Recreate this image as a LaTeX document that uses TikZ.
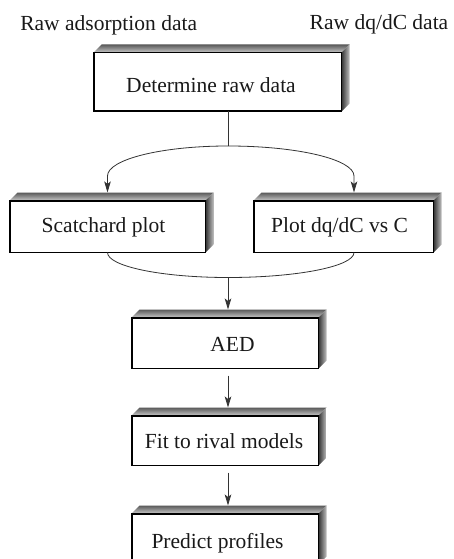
\documentclass[tikz,border=0pt]{standalone}
\usepackage{fontspec}
\setmainfont{Liberation Serif}
\usetikzlibrary{arrows.meta,calc}
\tikzset{
  box/.style={draw=black, line width=1pt, fill=white, rectangle, inner sep=0pt},
  txt/.style={anchor=base, inner sep=0pt, font=\fontsize{21.5}{24}\selectfont, text=black!90},
  conn/.style={draw=black!80, line width=0.8pt},
  arr/.style={conn, -{Stealth[length=11pt,width=6.5pt,inset=2.5pt]}},
}
\newcommand{\bevelfaces}[1]{%
  \shade[top color=black!65, bottom color=black!22]
    (#1.north west) -- ++(8,8) -- ($(#1.north east)+(8,8)$) -- (#1.north east) -- cycle;
  \shade[left color=black!80, right color=black!25]
    (#1.north east) -- ++(8,8) -- ($(#1.south east)+(8,8)$) -- (#1.south east) -- cycle;
  \draw[black, line width=1pt] (#1.north west) rectangle (#1.south east);
}
\begin{document}
\begin{tikzpicture}[x=1pt,y=1pt]
\useasboundingbox (0,0) rectangle (454,-559);
\clip (0,0) rectangle (454,-559);
\fill[white] (0,0) rectangle (454,-559);

% top labels
\node[txt] (lraw) at (108.7,-30.5) {Raw adsorption data};
\node[txt] (lrawdq) at (379,-29.5) {Raw dq/dC data};

% boxes (front faces)
\node[box, minimum width=247, minimum height=58] (top) at (217.5,-82) {};
\node[box, minimum width=195, minimum height=51] (scat) at (107.5,-226.5) {};
\node[box, minimum width=179, minimum height=51] (plot) at (343.5,-226.5) {};
\node[box, minimum width=186, minimum height=50] (aed) at (225,-343) {};
\node[box, minimum width=186, minimum height=49] (fit) at (225,-440.5) {};
\node[box, minimum width=186, minimum height=50] (pred) at (225,-539) {};

\foreach \b in {top,scat,plot,aed,fit,pred} {\bevelfaces{\b}}

% texts
\node[txt] (ttop) at (211,-93) {Determine raw data};
\node[txt] (tscat) at (103.5,-232) {Scatchard plot};
\node[txt] (tplot) at (339.5,-232) {Plot dq/dC vs C};
\node[txt] (taed) at (232.5,-351) {AED};
\node[txt] (tfit) at (224,-448) {Fit to rival models};
\node[txt] (tpred) at (217.5,-548) {Predict profiles};

% connectors
\coordinate (split) at (228,-146);
\draw[conn] (top.south -| split) -- (split);
\draw[arr] (split) arc[start angle=90, end angle=180, x radius=120.5pt, y radius=30pt]
  -- ([yshift=8pt]scat.north);
\coordinate (plotin) at ($(plot.north)+(10.5,8)$);
\draw[arr] (split) arc[start angle=90, end angle=0, x radius=126pt, y radius=30pt]
  -- (plotin);

\draw[conn] (scat.south) arc[start angle=180, end angle=270, x radius=120.5pt, y radius=25pt]
  coordinate (merge)
  arc[start angle=270, end angle=360, x radius=126pt, y radius=25pt];
\draw[arr] (merge) -- ($(aed.north -| merge)+(0,8)$);
\draw[arr] ($(aed.south -| merge)+(0,-7)$) -- ($(fit.north -| merge)+(0,8)$);
\draw[arr] ($(fit.south -| merge)+(0,-7)$) -- ($(pred.north -| merge)+(0,8)$);
\end{tikzpicture}
\end{document}
